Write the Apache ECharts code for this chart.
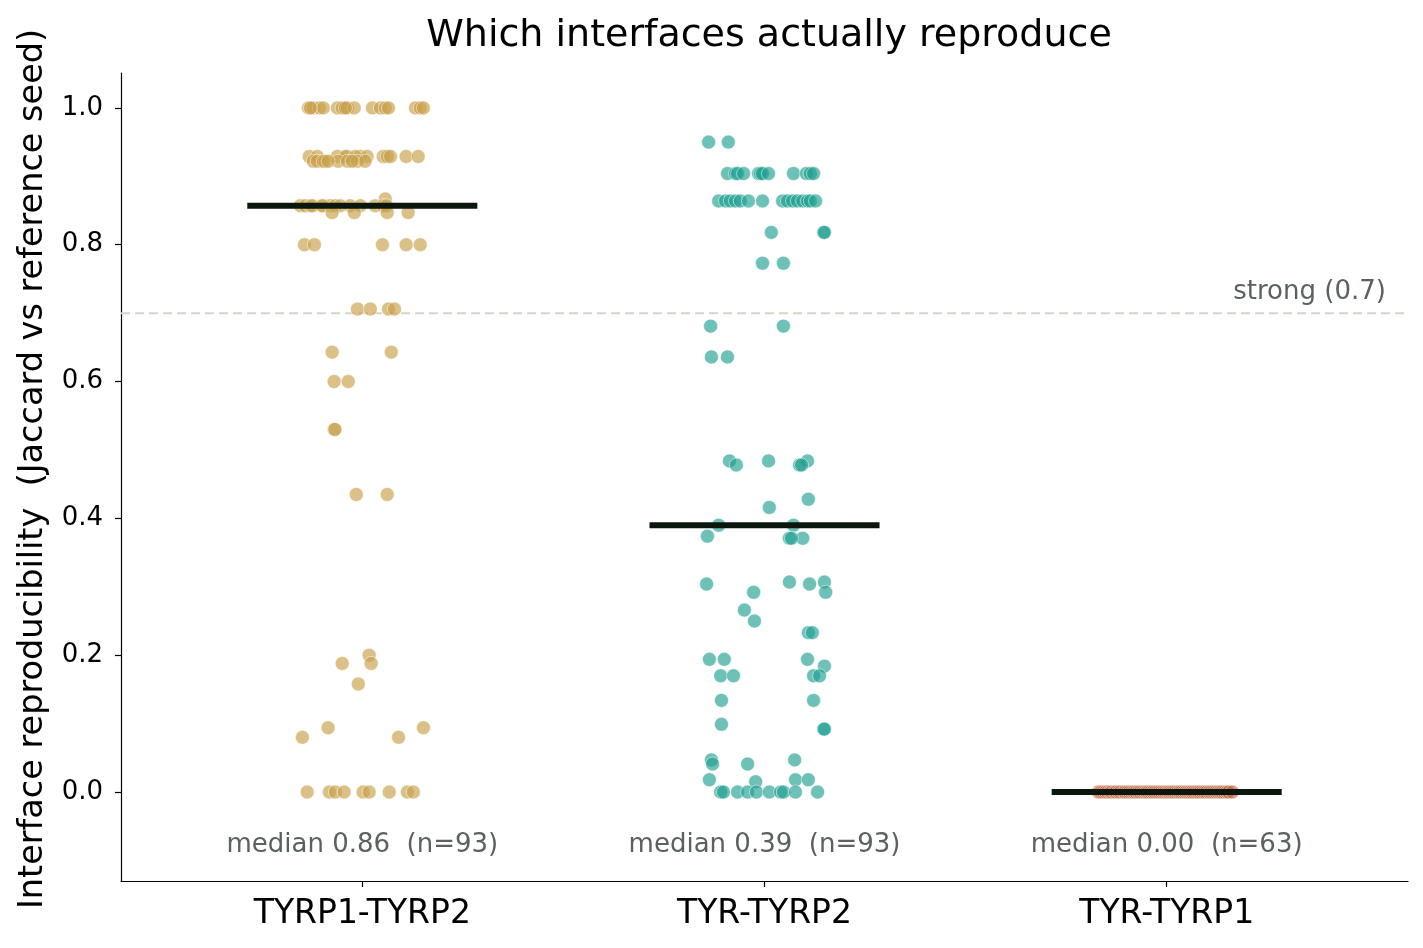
<!DOCTYPE html>
<html><head><meta charset="utf-8">
<script src="https://cdn.jsdelivr.net/npm/echarts@6/dist/echarts.min.js"></script>
<style>html,body{margin:0;padding:0;background:#fff}#c{width:1423px;height:948px}</style>
</head><body><div id="c"></div>
<script>
const categories = ['TYRP1-TYRP2', 'TYR-TYRP2', 'TYR-TYRP1'];
const medians = [0.857, 0.39, 0.0];
const medianLabels = ['median 0.86  (n=93)', 'median 0.39  (n=93)', 'median 0.00  (n=63)'];
const yTicks = [0, 0.2, 0.4, 0.6, 0.8, 1.0];
const strongThreshold = 0.7;

const g1Values = [
  1,1,1,1,1,1,1,1,1,1,1,1,1,1,1,1,1,
  0.929,0.929,0.929,0.929,0.929,0.929,0.929,0.929,0.929,0.929,0.929,0.929,0.929,
  0.922,0.922,0.922,0.922,0.922,0.922,0.922,0.922,0.922,0.922,
  0.867,
  0.857,0.857,0.857,0.857,0.857,0.857,0.857,0.857,0.857,0.857,0.857,0.857,0.857,0.857,
  0.847,0.847,0.847,0.847,
  0.8,0.8,0.8,0.8,0.8,
  0.706,0.706,0.706,0.706,
  0.643,0.643,
  0.6,0.6,
  0.53,0.53,
  0.435,0.435,
  0.2,
  0.188,0.188,
  0.158,
  0.094,0.094,
  0.08,0.08,
  0,0,0,0,0,0,0,0,0
];
const g1Jitter = [
  -0.134,-0.122,-0.107,-0.097,-0.062,-0.05,-0.037,-0.02,0.025,0.045,0.057,0.132,0.144,0.152,-0.129,-0.042,0.065,
  -0.132,-0.112,-0.062,-0.037,-0.005,0.012,0.052,0.062,0.109,0.139,-0.042,-0.017,0.07,
  -0.122,-0.112,-0.092,-0.06,-0.037,-0.012,0.007,-0.097,-0.085,-0.025,
  0.057,
  -0.154,-0.142,-0.129,-0.097,-0.08,-0.067,-0.03,-0.005,0.032,0.052,0.06,-0.124,-0.1,-0.055,
  -0.075,-0.02,0.062,0.114,
  -0.144,-0.119,0.05,0.109,0.144,
  -0.012,0.02,0.065,0.08,
  -0.075,0.072,
  -0.07,-0.035,
  -0.07,-0.068,
  -0.015,0.062,
  0.017,
  -0.05,0.022,
  -0.01,
  -0.085,0.152,
  -0.149,0.09,
  -0.137,-0.082,-0.067,-0.045,0.002,0.017,0.067,0.112,0.127
];

const g2Values = [
  0.95,0.95,
  0.904,0.904,0.904,0.904,0.904,0.904,0.904,0.904,0.904,0.904,0.904,0.904,
  0.864,0.864,0.864,0.864,0.864,0.864,0.864,0.864,0.864,0.864,0.864,0.864,0.864,0.864,0.864,
  0.818,0.818,0.818,
  0.773,0.773,
  0.681,0.681,
  0.636,0.636,
  0.484,0.484,0.484,
  0.478,0.478,0.478,
  0.428,
  0.416,
  0.39,0.39,
  0.374,
  0.371,0.371,0.371,
  0.307,0.307,
  0.304,0.304,
  0.292,0.292,
  0.266,
  0.25,
  0.233,0.233,
  0.194,0.194,0.194,
  0.184,
  0.17,0.17,0.17,0.17,
  0.134,0.134,
  0.099,
  0.092,0.092,
  0.047,0.047,
  0.041,0.041,
  0.018,0.018,0.018,
  0.015,
  0,0,0,0,0,0,0,0,0,0
];
const g2Jitter = [
  -0.139,-0.09,
  -0.092,-0.072,-0.067,-0.052,-0.015,-0.01,-0.005,0.01,0.072,0.104,0.114,0.122,
  -0.114,-0.097,-0.085,-0.072,-0.06,-0.04,-0.005,0.045,0.057,0.07,0.082,0.095,0.107,0.114,0.127,
  0.017,0.147,0.149,
  -0.005,0.047,
  -0.134,0.047,
  -0.132,-0.092,
  -0.087,0.01,0.107,
  -0.07,0.087,0.092,
  0.109,
  0.012,
  -0.114,0.072,
  -0.142,
  0.062,0.095,0.067,
  0.062,0.149,
  -0.144,0.112,
  -0.027,0.152,
  -0.05,
  -0.025,
  0.109,0.119,
  -0.137,-0.1,0.107,
  0.149,
  -0.109,-0.077,0.122,0.137,
  -0.107,0.122,
  -0.107,
  0.147,0.149,
  -0.132,0.075,
  -0.129,-0.042,
  -0.137,0.077,0.109,
  -0.022,
  -0.109,-0.102,-0.067,-0.042,-0.02,0.012,0.04,0.047,0.077,0.132
];

const g3Values = [
  0,0,0,0,0,0,0,0,0,0, 0,0,0,0,0,0,0,0,0,0, 0,0,0,0,0,0,0,0,0,0,
  0,0,0,0,0,0,0,0,0,0, 0,0,0,0,0,0,0,0,0,0, 0,0,0,0,0,0,0,0,0,0, 0,0,0
];
const g3Jitter = [
  -0.17,-0.165,-0.158,-0.152,-0.147,-0.141,-0.137,-0.13,-0.126,-0.12,
  -0.115,-0.108,-0.104,-0.098,-0.093,-0.087,-0.082,-0.077,-0.071,-0.066,
  -0.06,-0.055,-0.05,-0.046,-0.04,-0.035,-0.03,-0.024,-0.019,-0.013,
  -0.008,-0.003,0.002,0.006,0.011,0.016,0.021,0.027,0.031,0.036,
  0.042,0.047,0.052,0.057,0.062,0.067,0.073,0.078,0.083,0.089,
  0.094,0.099,0.105,0.11,0.116,0.121,0.127,0.132,0.137,0.143,
  0.149,0.154,0.163
];

const groupValues = [g1Values, g2Values, g3Values];
const groupJitter = [g1Jitter, g2Jitter, g3Jitter];
const groupColors = ['#c8a048', '#1fa090', '#c46a45'];

const FONT = 'DejaVu Sans';
const series = [];

// threshold line
series.push({
  type: 'line', silent: true, symbol: 'none', z: 1,
  data: [[-0.6, strongThreshold], [2.6, strongThreshold]],
  lineStyle: { color: '#d8d4c6', width: 2, type: [9, 5] }
});

groupValues.forEach((vals, gi) => {
  series.push({
    type: 'scatter', z: 3,
    symbolSize: 14,
    itemStyle: { color: groupColors[gi], opacity: 0.65, borderColor: '#ffffff', borderWidth: 0.8 },
    data: vals.map((v, k) => [gi + groupJitter[gi][k], v])
  });
  series.push({
    type: 'line', z: 5, symbol: 'none', silent: true,
    data: [[gi - 0.286, medians[gi]], [gi + 0.286, medians[gi]]],
    lineStyle: { color: '#0b170c', width: 6, cap: 'butt' }
  });
});

// median labels
series.push({
  type: 'scatter', symbolSize: 0, silent: true, z: 6,
  itemStyle: { opacity: 1 },
  data: categories.map((c, i) => [i, -0.078]),
  label: {
    show: true, position: 'inside', opacity: 1,
    formatter: p => medianLabels[p.dataIndex],
    color: '#5b625e', fontSize: 26, fontFamily: FONT
  }
});
// strong label
series.push({
  type: 'scatter', symbolSize: 0, silent: true, z: 6,
  itemStyle: { opacity: 1 },
  data: [[2.545, strongThreshold]],
  label: {
    show: true, position: 'inside', align: 'right', offset: [0, -21], opacity: 1,
    formatter: 'strong (0.7)',
    color: '#5b625e', fontSize: 26, fontFamily: FONT
  }
});

const chart = echarts.init(document.getElementById('c'), null, { renderer: 'canvas' });
chart.setOption({
  animation: false,
  backgroundColor: '#ffffff',
  title: {
    text: 'Which interfaces actually reproduce',
    left: 764, top: 12, textAlign: 'center',
    textStyle: { fontFamily: FONT, fontSize: 38, fontWeight: 'normal', color: '#000' }
  },
  grid: { left: 121, right: 15, top: 73, bottom: 67, containLabel: false },
  xAxis: {
    type: 'value', min: -0.6, max: 2.6,
    splitLine: { show: false },
    axisLine: { show: true, onZero: false, lineStyle: { color: '#000', width: 1.2 } },
    axisTick: { show: true, customValues: [0, 1, 2], length: 6, lineStyle: { color: '#000', width: 1.2 } },
    axisLabel: {
      customValues: [0, 1, 2],
      formatter: v => categories[Math.round(v)],
      fontFamily: FONT, fontSize: 33, color: '#000', margin: 17
    }
  },
  yAxis: {
    type: 'value', min: -0.13, max: 1.051,
    name: 'Interface reproducibility  (Jaccard vs reference seed)',
    nameLocation: 'middle', nameGap: 71,
    nameTextStyle: { fontFamily: FONT, fontSize: 33.5, color: '#000', padding: [0, 0, 0, 16] },
    splitLine: { show: false },
    axisLine: { show: true, onZero: false, lineStyle: { color: '#000', width: 1.2 } },
    axisTick: { show: true, customValues: yTicks, length: 6, lineStyle: { color: '#000', width: 1.2 } },
    axisLabel: {
      customValues: yTicks,
      formatter: v => v.toFixed(1),
      fontFamily: FONT, fontSize: 26, color: '#000', margin: 18
    }
  },
  series: series
});
</script>
</body></html>
